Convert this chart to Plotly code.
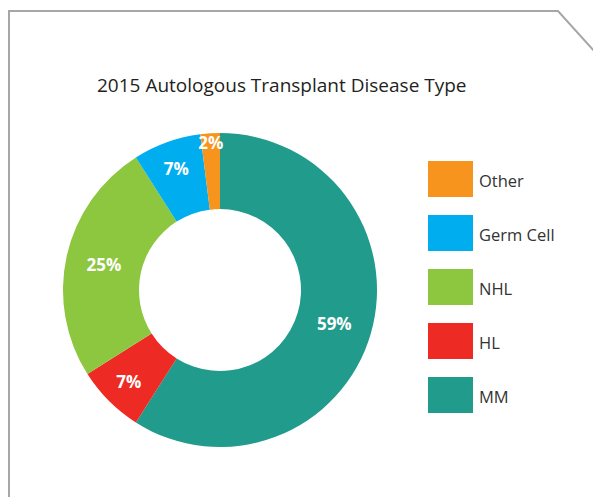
import plotly.graph_objects as go

# The page body adds an 8px margin around the figure
OFF = 8
W, H = 601 - OFF, 497 - OFF

# Data (legend order, top to bottom)
labels = ["Other", "Germ Cell", "NHL", "HL", "MM"]
values = [2, 7, 25, 7, 59]
colors = ["#F7941D", "#00AEEF", "#8DC63F", "#EE2A24", "#219B8C"]
title_text = "2015 Autologous Transplant Disease Type"

FONT = "Open Sans"

def px(x):
    return (x - OFF) / W

def py(y):
    return 1 - (y - OFF) / H

# slices drawn clockwise from 12 o'clock starting with MM
fig = go.Figure(
    go.Pie(
        labels=labels[::-1],
        values=values[::-1],
        marker=dict(colors=colors[::-1], line=dict(width=0)),
        hole=0.516,
        sort=False,
        direction="clockwise",
        rotation=0,
        texttemplate="%{percent:.0%}",
        textposition="inside",
        insidetextorientation="horizontal",
        textfont=dict(family=FONT, size=17, color="white", weight="bold"),
        domain=dict(x=[px(63), px(377)], y=[py(447), py(133)]),
        showlegend=False,
        hoverinfo="label+percent",
    )
)

shapes = [
    # frame with cut corner
    dict(
        type="path",
        xref="paper", yref="paper",
        path=f"M {px(9)},{py(505)} L {px(9)},{py(11)} L {px(558)},{py(11)} L {px(604)},{py(62)}",
        line=dict(color="#A6A6A6", width=2),
    )
]
annotations = [
    dict(
        text=title_text, x=px(282), y=py(85), xref="paper", yref="paper",
        showarrow=False, xanchor="center", yanchor="middle",
        font=dict(family=FONT, size=19, color="#231F20"),
    )
]

# custom legend with large swatches
top0, step, sw_w, sw_h = 161, 54, 45, 36
for i, (lab, col) in enumerate(zip(labels, colors)):
    y0 = top0 + i * step
    shapes.append(dict(
        type="rect", xref="paper", yref="paper",
        x0=px(428), x1=px(428 + sw_w), y0=py(y0 + sw_h), y1=py(y0),
        fillcolor=col, line=dict(width=0),
    ))
    annotations.append(dict(
        text=lab, x=px(477), y=py(y0 + sw_h / 2 + 1), xref="paper", yref="paper",
        showarrow=False, xanchor="left", yanchor="middle",
        font=dict(family=FONT, size=16.5, color="#333333"),
    ))

fig.update_layout(
    width=W, height=H,
    margin=dict(l=0, r=0, t=0, b=0),
    paper_bgcolor="white",
    plot_bgcolor="white",
    shapes=shapes,
    annotations=annotations,
    uniformtext=dict(minsize=16, mode="show"),
)

fig.write_html("out.html")
